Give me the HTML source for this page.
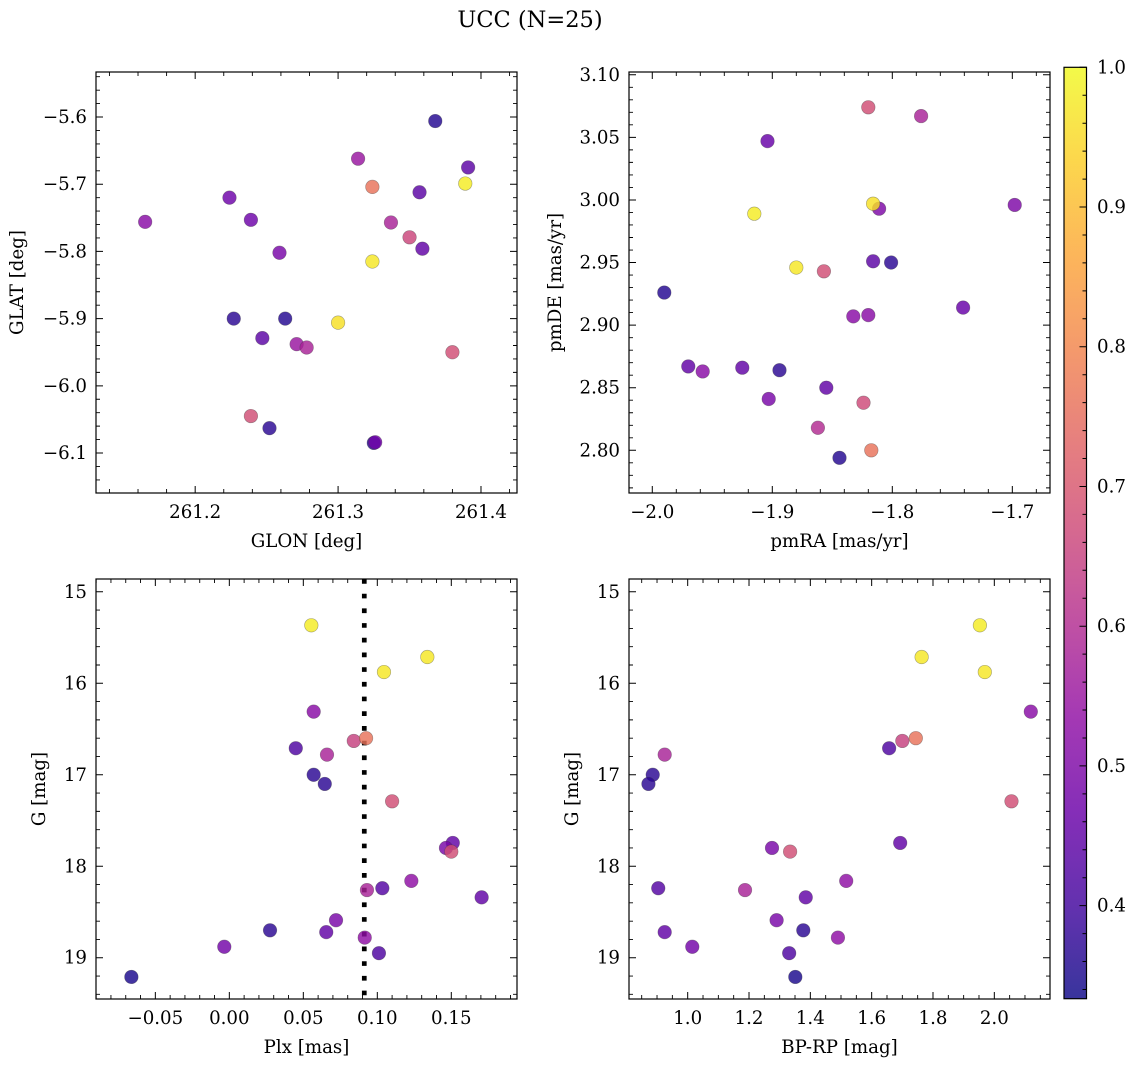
<!DOCTYPE html>
<html><head><meta charset="utf-8"><title>UCC (N=25)</title>
<style>html,body{margin:0;padding:0;background:#fff;}svg{display:block;font-family:"DejaVu Serif","Liberation Serif",serif;}</style>
</head><body>
<svg id="fig" width="1136" height="1067" viewBox="0 0 1136 1067" xmlns="http://www.w3.org/2000/svg">
<text x="530" y="27" font-size="22.5" text-anchor="middle" fill="#000">UCC (N=25)</text>
<defs><linearGradient id="cbgrad" x1="0" y1="1" x2="0" y2="0"></linearGradient></defs>
</svg>
<script>
// Panel 1 data
const glon = [261.368,261.314,261.391,261.324,261.389,261.357,261.224,261.165,261.239,261.337,261.350,261.359,261.259,261.324,261.227,261.263,261.300,261.247,261.271,261.278,261.380,261.239,261.252,261.325,261.326];
const glat = [-5.606,-5.662,-5.675,-5.704,-5.699,-5.712,-5.720,-5.756,-5.753,-5.757,-5.779,-5.796,-5.802,-5.815,-5.900,-5.900,-5.906,-5.929,-5.938,-5.943,-5.950,-6.045,-6.063,-6.085,-6.084];
const prob1 = [0.36,0.55,0.44,0.76,0.98,0.44,0.47,0.52,0.47,0.58,0.66,0.45,0.49,0.97,0.37,0.36,0.96,0.44,0.55,0.58,0.68,0.68,0.37,0.36,0.48];
// Panel 2 data
const pmra = [-1.820,-1.776,-1.904,-1.915,-1.816,-1.811,-1.698,-1.880,-1.857,-1.816,-1.801,-1.990,-1.741,-1.8325,-1.820,-1.970,-1.958,-1.925,-1.894,-1.855,-1.903,-1.824,-1.862,-1.844,-1.8175];
const pmde = [3.074,3.067,3.047,2.989,2.997,2.993,2.996,2.946,2.943,2.951,2.950,2.926,2.914,2.907,2.908,2.867,2.863,2.866,2.864,2.850,2.841,2.838,2.818,2.794,2.800];
const prob2 = [0.68,0.58,0.46,0.98,0.96,0.50,0.50,0.97,0.68,0.44,0.37,0.36,0.46,0.52,0.52,0.45,0.52,0.45,0.37,0.45,0.49,0.67,0.60,0.36,0.76];
// Panels 3 & 4 data
const gmag = [15.366,15.713,15.877,16.31,16.60,16.63,16.71,16.78,17.00,17.10,17.29,17.745,17.80,17.84,18.16,18.24,18.26,18.34,18.59,18.70,18.72,18.78,18.88,18.95,19.21];
const plx = [0.0554,0.1338,0.1045,0.0570,0.0924,0.0841,0.0449,0.0660,0.0570,0.0645,0.1100,0.1510,0.1464,0.1500,0.1230,0.1034,0.0930,0.1705,0.0721,0.0275,0.0655,0.0915,-0.0034,0.1011,-0.0662];
const bprp = [1.953,1.763,1.969,2.119,1.744,1.700,1.657,0.925,0.886,0.872,2.056,1.693,1.275,1.334,1.517,0.904,1.187,1.385,1.290,1.377,0.925,1.490,1.015,1.331,1.351];
const probG = [0.98,0.97,0.97,0.52,0.76,0.65,0.42,0.58,0.37,0.37,0.68,0.45,0.49,0.68,0.53,0.43,0.58,0.45,0.49,0.37,0.45,0.53,0.48,0.42,0.35];
const plxLine = [0.0912];
// Tick values
const ticksGlon = [261.2,261.3,261.4];
const ticksGlat = [-5.6,-5.7,-5.8,-5.9,-6.0,-6.1];
const ticksPmra = [-2.0,-1.9,-1.8,-1.7];
const ticksPmde = [2.80,2.85,2.90,2.95,3.00,3.05,3.10];
const ticksPlx = [-0.05,0.00,0.05,0.10,0.15];
const ticksG = [15,16,17,18,19];
const ticksBprp = [1.0,1.2,1.4,1.6,1.8,2.0];
const ticksCbar = [0.4,0.5,0.6,0.7,0.8,0.9,1.0];
const cbMin = 0.3334, cbMax = 1.0;

const FS = 18.2;
const NS = "http://www.w3.org/2000/svg";
const svg = document.getElementById('fig');
function mk(tag, attrs, parent) {
  const e = document.createElementNS(NS, tag);
  for (const k in attrs) e.setAttribute(k, attrs[k]);
  (parent || svg).appendChild(e);
  return e;
}
const stops = [[0.0,[13,8,135]],[0.1,[65,4,157]],[0.2,[106,0,168]],[0.3,[143,13,164]],[0.4,[177,42,144]],[0.5,[204,71,120]],[0.6,[225,100,98]],[0.7,[242,132,75]],[0.8,[252,166,54]],[0.9,[252,206,37]],[1.0,[240,249,33]]];
function plasma(t) {
  t = Math.max(0, Math.min(1, t));
  for (let i = 0; i < stops.length - 1; i++) {
    const a = stops[i], b = stops[i + 1];
    if (t <= b[0]) {
      const f = (t - a[0]) / (b[0] - a[0]);
      const c = a[1].map((v, j) => Math.round(v + (b[1][j] - v) * f));
      return 'rgb(' + c.join(',') + ')';
    }
  }
  return 'rgb(240,249,33)';
}
function cmap(p) { return plasma((p - cbMin) / (cbMax - cbMin)); }
function fmt(v, d) {
  const s = Math.abs(v).toFixed(d);
  return (v < -1e-9 ? '\u2212' : '') + s;
}

function panel(p) {
  const g = mk('g', {});
  
  
  const sx = v => p.x0 + (v - p.xmin) / (p.xmax - p.xmin) * (p.x1 - p.x0);
  const sy = p.invert ? (v => p.y0 + (v - p.ymin) / (p.ymax - p.ymin) * (p.y1 - p.y0))
                      : (v => p.y1 - (v - p.ymin) / (p.ymax - p.ymin) * (p.y1 - p.y0));
  if (p.vline) {
    for (const v of p.vline) {
      const ln = mk('line', {x1: sx(v), x2: sx(v), y1: p.y0, y2: p.y1, stroke: '#000', 'stroke-width': 4.7, 'stroke-dasharray': '4.7 10'}, g);
      
      
    }
  }
  const idx = p.xs.map((_, i) => i).sort((a, b) => p.cs[a] - p.cs[b]);
  for (const i of idx) {
    const c = mk('circle', {cx: sx(p.xs[i]), cy: sy(p.ys[i]), r: 6.8, fill: cmap(p.cs[i]), 'fill-opacity': 0.82, stroke: 'rgba(60,60,60,0.45)', 'stroke-width': 0.6}, g);
    
    
  }
  const fr = mk('rect', {x: p.x0, y: p.y0, width: p.x1 - p.x0, height: p.y1 - p.y0, fill: 'none', stroke: '#000', 'stroke-width': 1.2}, g);
  
  
  for (const v of p.xt) {
    const X = sx(v);
    const t1 = mk('path', {d: `M${X},${p.y1}v-7M${X},${p.y0}v7`, stroke: '#000', 'stroke-width': 1}, g);
    
    
    const tl = mk('text', {x: X, y: p.y1 + 25, 'font-size': FS, 'text-anchor': 'middle'}, g);
    
    
    tl.textContent = fmt(v, p.xd);
  }
  for (const v of p.yt) {
    const Y = sy(v);
    const t1 = mk('path', {d: `M${p.x0},${Y}h7M${p.x1},${Y}h-7`, stroke: '#000', 'stroke-width': 1}, g);
    
    
    const tl = mk('text', {x: p.x0 - 9, y: Y + 6, 'font-size': FS, 'text-anchor': 'end'}, g);
    
    
    tl.textContent = fmt(v, p.yd);
  }
  let d = '';
  const lo = Math.min(p.xmin, p.xmax), hi = Math.max(p.xmin, p.xmax);
  for (let k = Math.ceil(lo / p.xm - 1e-6); k * p.xm <= hi + 1e-9; k++) {
    const v = k * p.xm;
    if (p.xt.some(t => Math.abs(t - v) < p.xm / 10)) continue;
    const X = sx(v);
    d += `M${X},${p.y1}v-4M${X},${p.y0}v4`;
  }
  const ylo = Math.min(p.ymin, p.ymax), yhi = Math.max(p.ymin, p.ymax);
  for (let k = Math.ceil(ylo / p.ym - 1e-6); k * p.ym <= yhi + 1e-9; k++) {
    const v = k * p.ym;
    if (p.yt.some(t => Math.abs(t - v) < p.ym / 10)) continue;
    const Y = sy(v);
    d += `M${p.x0},${Y}h4M${p.x1},${Y}h-4`;
  }
  const mt = mk('path', {d: d, stroke: '#000', 'stroke-width': 0.9}, g);
  
  
  const xl = mk('text', {x: (p.x0 + p.x1) / 2, y: p.y1 + 54, 'font-size': FS, 'text-anchor': 'middle'}, g);
  
  
  xl.textContent = p.xlabel;
  const cy = (p.y0 + p.y1) / 2;
  const yl = mk('text', {x: p.ylx, y: cy, 'font-size': FS, 'text-anchor': 'middle', transform: `rotate(-90 ${p.ylx} ${cy})`}, g);
  
  
  yl.textContent = p.ylabel;
}

panel({name: 'glon-glat-panel', x0: 96, x1: 517, y0: 72, y1: 493, xmin: 261.1306, xmax: 261.4252, ymin: -6.1595, ymax: -5.5330,
  xt: ticksGlon, yt: ticksGlat, xd: 1, yd: 1, xm: 0.02, ym: 0.02, xs: glon, ys: glat, cs: prob1, xlabel: 'GLON [deg]', ylabel: 'GLAT [deg]', ylx: 23});
panel({name: 'proper-motion-panel', x0: 629, x1: 1050, y0: 72, y1: 493, xmin: -2.0194, xmax: -1.6686, ymin: 2.7659, ymax: 3.1022,
  xt: ticksPmra, yt: ticksPmde, xd: 1, yd: 2, xm: 0.02, ym: 0.01, xs: pmra, ys: pmde, cs: prob2, xlabel: 'pmRA [mas/yr]', ylabel: 'pmDE [mas/yr]', ylx: 561});
panel({name: 'parallax-magnitude-panel', x0: 96, x1: 517, y0: 579, y1: 999, xmin: -0.0901, xmax: 0.1944, ymin: 14.860, ymax: 19.451, invert: true,
  xt: ticksPlx, yt: ticksG, xd: 2, yd: 0, xm: 0.01, ym: 0.2, xs: plx, ys: gmag, cs: probG, vline: plxLine, xlabel: 'Plx [mas]', ylabel: 'G [mag]', ylx: 45});
panel({name: 'color-magnitude-panel', x0: 629, x1: 1050, y0: 579, y1: 999, xmin: 0.8086, xmax: 2.1816, ymin: 14.860, ymax: 19.451, invert: true,
  xt: ticksBprp, yt: ticksG, xd: 1, yd: 0, xm: 0.05, ym: 0.2, xs: bprp, ys: gmag, cs: probG, xlabel: 'BP-RP [mag]', ylabel: 'G [mag]', ylx: 578});

const grad = document.getElementById('cbgrad');
for (let i = 0; i <= 40; i++) {
  const s = mk('stop', {offset: (i / 40), 'stop-color': plasma(i / 40), 'stop-opacity': 0.82}, grad);
  
  
}
const cb = {x0: 1064, x1: 1086.5, y0: 67.3, y1: 998.7};
const cby = v => cb.y1 - (v - cbMin) / (cbMax - cbMin) * (cb.y1 - cb.y0);
const cbg = mk('g', {});


const cbr = mk('rect', {x: cb.x0, y: cb.y0, width: cb.x1 - cb.x0, height: cb.y1 - cb.y0, fill: 'url(#cbgrad)', stroke: '#000', 'stroke-width': 1.2}, cbg);


let cd = '';
for (let k = Math.ceil(cbMin / 0.02 - 1e-6); k * 0.02 <= cbMax + 1e-9; k++) {
  const v = k * 0.02;
  if (ticksCbar.some(t => Math.abs(t - v) < 0.002)) continue;
  cd += `M${cb.x1},${cby(v)}h-4`;
}
for (const v of ticksCbar) {
  cd += `M${cb.x1},${cby(v)}h-7`;
  const tl = mk('text', {x: 1097, y: cby(v) + 6, 'font-size': FS}, cbg);
  
  
  tl.textContent = v.toFixed(1);
}
const cbt = mk('path', {d: cd, stroke: '#000', 'stroke-width': 1}, cbg);


</script>
</body></html>
